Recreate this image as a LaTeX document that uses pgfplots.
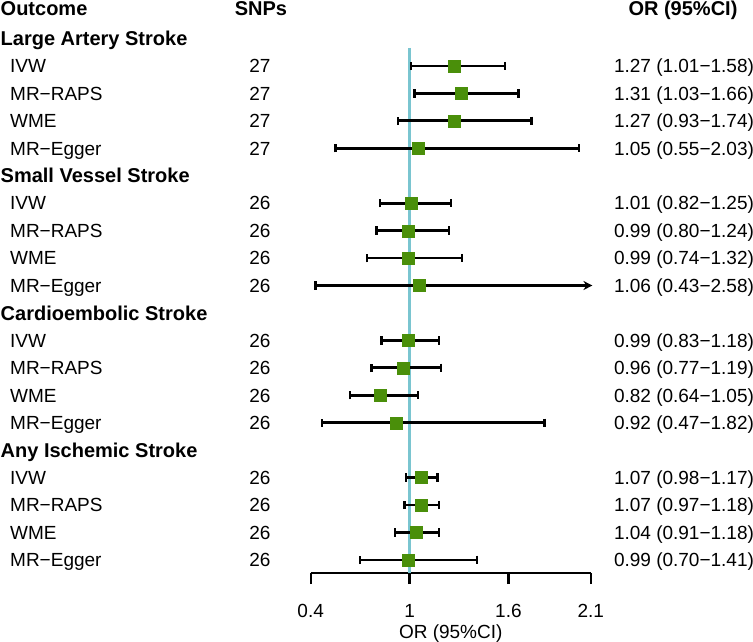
\documentclass[border=0pt]{standalone}
\usepackage{pgfplots}
\pgfplotsset{compat=1.18}
\usepackage{pgfplotstable}
\usepackage{fontspec}
\setmainfont{Liberation Sans}
\usetikzlibrary{arrows.meta}
\definecolor{sqgreen}{RGB}{74,143,10}
\definecolor{refline}{RGB}{122,197,208}
\newcommand\regf{\fontsize{19bp}{22bp}\selectfont}
\newcommand\boldf{\fontsize{20bp}{23bp}\selectfont\bfseries}
\pgfplotstableread{
row or lo hi
2 1.27 1.01 1.58
3 1.31 1.03 1.66
4 1.27 0.93 1.74
5 1.05 0.55 2.03
7 1.01 0.82 1.25
8 0.99 0.80 1.24
9 0.99 0.74 1.32
12 0.99 0.83 1.18
13 0.96 0.77 1.19
14 0.82 0.64 1.05
15 0.92 0.47 1.82
17 1.07 0.98 1.17
18 1.07 0.97 1.18
19 1.04 0.91 1.18
20 0.99 0.70 1.41
}\ortable
\begin{document}
\begin{tikzpicture}
\begin{axis}[
  at={(310.7bp,-573bp)}, anchor=south west,
  scale only axis, width=280.1bp, height=525bp,
  xmin=0.4, xmax=2.1, ymin=-20.477, ymax=-1.345,
  axis x line=bottom, axis y line=none,
  x axis line style={-, line width=2.4bp, black},
  xtick={0.4,1,1.6,2.1}, xticklabels={0.4,1,1.6,2.1},
  xtick align=outside, major tick length=11bp,
  xtick style={line width=2.4bp, black},
  xticklabel style={font=\regf, inner sep=0pt, anchor=north},
  xticklabel shift=20bp,
  /pgf/number format/assume math mode=true,
  xlabel={OR (95\%CI)},
  xlabel style={font=\regf, at={(axis description cs:0.5,0)}, anchor=base, inner sep=0pt, yshift=-65.5bp},
  clip=false,
]
\addplot[refline, line width=2.2bp] coordinates {(1,-1.345) (1,-20.477)};
\addplot[only marks, mark=square*, mark size=6bp,
  mark options={draw=sqgreen, fill=sqgreen, line width=0.2bp},
  error bars/.cd, x dir=both, x explicit,
  error bar style={line width=2.8bp, black},
  error mark options={black, mark size=4.2bp, line width=2.4bp, rotate=90}]
  table[x=or, y expr=-\thisrow{row},
        x error plus expr=\thisrow{hi}-\thisrow{or},
        x error minus expr=\thisrow{or}-\thisrow{lo}] {\ortable};
% row with upper limit beyond axis (0.43-2.58)
\addplot[black, line width=2.8bp, -{Stealth[length=9bp,width=9bp]}] coordinates {(0.43,-10) (2.11,-10)};
\addplot[only marks, mark=|, mark size=4.2bp, black, mark options={line width=2.4bp}] coordinates {(0.43,-10)};
\addplot[only marks, mark=square*, mark size=6bp,
  mark options={draw=sqgreen, fill=sqgreen, line width=0.2bp}] coordinates {(1.06,-10)};
\end{axis}
\begin{scope}[x=1bp, y=-1bp]
\node[anchor=base west, inner sep=0pt, font=\boldf] at (0.5,15.5) {Outcome};
\node[anchor=base, inner sep=0pt, font=\boldf] at (261,15.5) {SNPs};
\node[anchor=base, inner sep=0pt, font=\boldf] at (683,15.5) {OR (95\%CI)};
\foreach \k/\t in {1/Large Artery Stroke, 6/Small Vessel Stroke, 11/Cardioembolic Stroke, 16/Any Ischemic Stroke}{
  \node[anchor=base west, inner sep=0pt, font=\boldf] at (0.5,{11.1+27.44*\k+7.2}) {\t};
}
\foreach \k/\m/\n/\o in {
 2/IVW/27/{1.27 (1.01−1.58)},
 3/MR−RAPS/27/{1.31 (1.03−1.66)},
 4/WME/27/{1.27 (0.93−1.74)},
 5/MR−Egger/27/{1.05 (0.55−2.03)},
 7/IVW/26/{1.01 (0.82−1.25)},
 8/MR−RAPS/26/{0.99 (0.80−1.24)},
 9/WME/26/{0.99 (0.74−1.32)},
 10/MR−Egger/26/{1.06 (0.43−2.58)},
 12/IVW/26/{0.99 (0.83−1.18)},
 13/MR−RAPS/26/{0.96 (0.77−1.19)},
 14/WME/26/{0.82 (0.64−1.05)},
 15/MR−Egger/26/{0.92 (0.47−1.82)},
 17/IVW/26/{1.07 (0.98−1.17)},
 18/MR−RAPS/26/{1.07 (0.97−1.18)},
 19/WME/26/{1.04 (0.91−1.18)},
 20/MR−Egger/26/{0.99 (0.70−1.41)}}{
  \node[anchor=base west, inner sep=0pt, font=\regf] at (10,{11.1+27.44*\k+6.8}) {\m};
  \node[anchor=base, inner sep=0pt, font=\regf] at (260,{11.1+27.44*\k+6.8}) {\n};
  \node[anchor=base, inner sep=0pt, font=\regf] at (684,{11.1+27.44*\k+6.8}) {\o};
}
\end{scope}
\pgfresetboundingbox
\path[use as bounding box] (0,0) rectangle (753bp,-642bp);
\end{tikzpicture}
\end{document}
